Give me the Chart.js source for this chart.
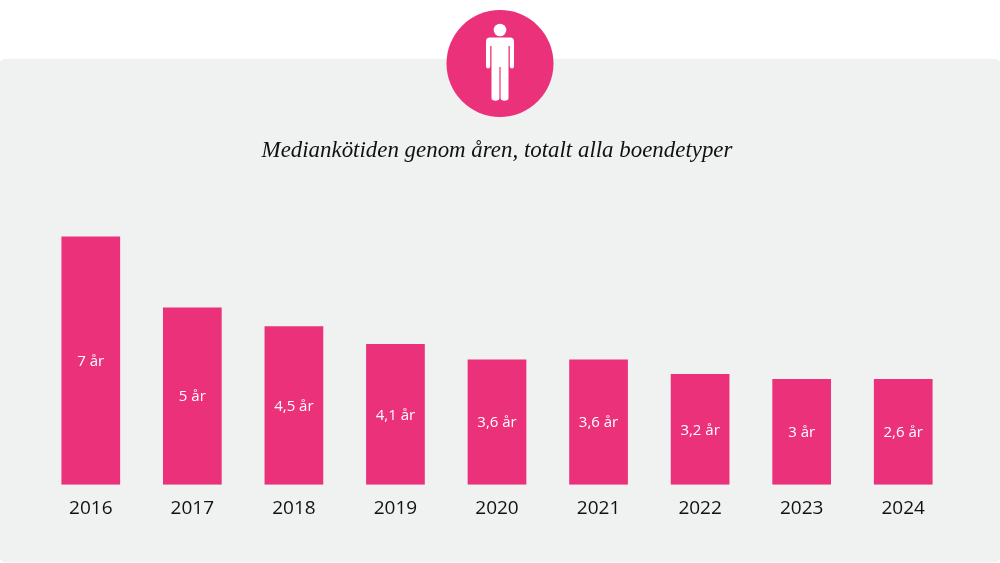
<!DOCTYPE html>
<html lang="sv">
<head>
<meta charset="utf-8">
<title>Mediankötiden genom åren</title>
<style>
    html, body { margin: 0; padding: 0; background: #fff; }
    #wrap { position: relative; width: 1000px; height: 563px; overflow: hidden; }
    #panel { position: absolute; left: 0; top: 59px; width: 1000px; height: 503px; background: #f0f1f1; border-radius: 6px; box-shadow: 0 0 1px #d8d8d8; }
    #icon { position: absolute; left: 0; top: 0; }
</style>
<script src="https://cdn.jsdelivr.net/npm/chart.js@4"></script>
</head>
<body>
<div id="wrap">
    <div id="panel"></div>
    <svg id="icon" width="1000" height="563" viewBox="0 0 1000 563">
        <circle cx="500" cy="63.5" r="53.5" fill="#ea317a"/>
        <circle cx="500" cy="30" r="6.3" fill="#fff"/>
        <path fill="#fff" d="M490 37.5H510Q514 37.5 514 41.5V66Q514 68.5 512 68.5Q509.8 68.5 509.8 66V46H508.5V98Q508.5 100.7 504.6 100.7Q500.6 100.7 500.6 98V67H499.4V98Q499.4 100.7 495.4 100.7Q491.5 100.7 491.5 98V46H490.2V66Q490.2 68.5 488 68.5Q486 68.5 486 66V41.5Q486 37.5 490 37.5Z"/>
    </svg>
    <canvas id="chart" width="1000" height="563" style="position:absolute;left:0;top:0"></canvas>
</div>
<script>
// Medianködata, läst från bilden
const years = ['2016', '2017', '2018', '2019', '2020', '2021', '2022', '2023', '2024'];
// bar heights as drawn in the picture (not always the same as the printed label)
const barValues = [7, 5, 4.47, 3.97, 3.53, 3.53, 3.12, 2.98, 2.98];
const barLabels = ['7 år', '5 år', '4,5 år', '4,1 år', '3,6 år', '3,6 år', '3,2 år', '3 år', '2,6 år'];

const pink = '#ea317a';

// Writes the "x år" text in the middle of each bar
const barTextPlugin = {
    id: 'barText',
    afterDatasetsDraw(chart) {
        const ctx = chart.ctx;
        const meta = chart.getDatasetMeta(0);
        ctx.save();
        ctx.fillStyle = '#fff';
        ctx.font = '15px "Open Sans"';
        ctx.textAlign = 'center';
        ctx.textBaseline = 'middle';
        meta.data.forEach(function(bar, i) {
            ctx.fillText(barLabels[i], bar.x, (bar.y + bar.base) / 2 + 1);
        });
        ctx.restore();
    }
};

new Chart(document.getElementById('chart'), {
    type: 'bar',
    data: {
        labels: years,
        datasets: [{
            data: barValues,
            backgroundColor: pink,
            barPercentage: 0.578,
            categoryPercentage: 1
        }]
    },
    options: {
        responsive: false,
        animation: false,
        layout: { padding: { left: 40, right: 46, top: 0, bottom: 38.5 } },
        plugins: {
            legend: { display: false },
            tooltip: { enabled: false },
            title: {
                display: true,
                text: 'Mediankötiden genom åren, totalt alla boendetyper',
                color: '#111',
                font: { family: '"Liberation Serif"', style: 'italic', size: 22.9, weight: 'normal' },
                padding: { top: 137.5, bottom: 36 }
            }
        },
        scales: {
            x: {
                grid: { display: false },
                border: { display: false },
                ticks: { color: '#111', font: { family: '"Open Sans"', size: 19 }, padding: 4.5, maxRotation: 0 }
            },
            y: {
                display: false,
                min: 0,
                max: 8
            }
        }
    },
    plugins: [barTextPlugin]
});
</script>
</body>
</html>
